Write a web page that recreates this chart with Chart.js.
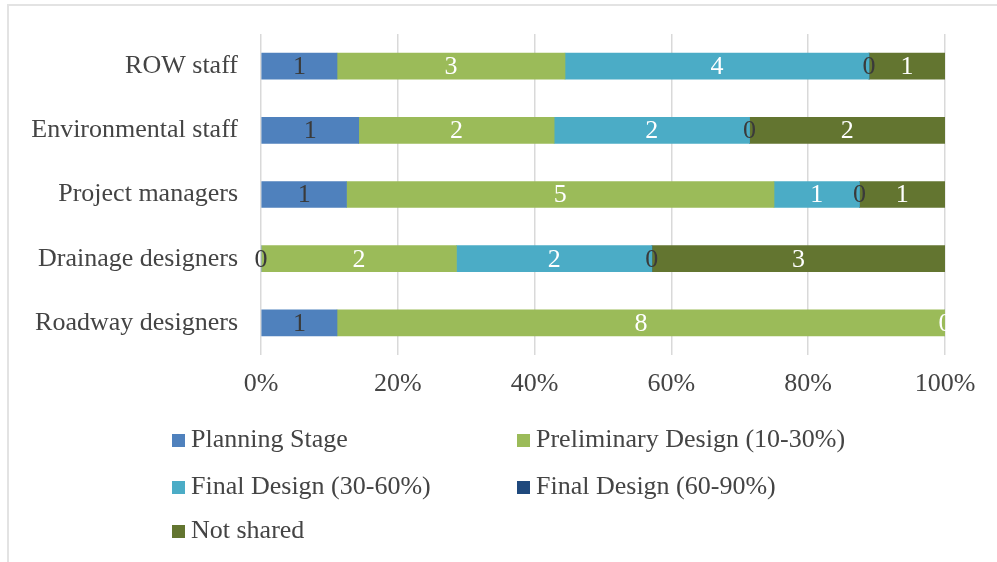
<!DOCTYPE html>
<html>
<head>
<meta charset="utf-8">
<script src="https://cdn.jsdelivr.net/npm/chart.js@4"></script>
<style>
  body { margin: 0; background: #fff; }
  #wrap { position: relative; width: 997px; height: 562px; overflow: hidden; }
  #frame { position: absolute; left: 7px; top: 4px; right: 0; bottom: 0;
           border-top: 2px solid #e3e3e3; border-left: 2px solid #e3e3e3; }
  #chartBox { position: absolute; left: 0; top: 0; width: 997px; height: 562px; }
  #legend { position: absolute; left: 0; top: 0; width: 997px; height: 562px; pointer-events: none;
            font-family: "Liberation Serif", "Times New Roman", serif; font-size: 26px; color: #444; }
  .lg-item { position: absolute; height: 30px; line-height: 30px; white-space: nowrap; transform: translateY(-50%); }
  .lg-item span { display: inline-block; width: 13px; height: 13px; margin-right: 6px; vertical-align: 0px; }
</style>
</head>
<body>
<div id="wrap">
  <div id="frame"></div>
  <div id="chartBox"><canvas id="stageChart"></canvas></div>
  <div id="legend"></div>
</div>
<script>
// respondents per group, by project stage at which info is shared
const groups = ['ROW staff', 'Environmental staff', 'Project managers', 'Drainage designers', 'Roadway designers'];
const planningStage = [1, 1, 1, 0, 1];
const preliminaryDesign = [3, 2, 5, 2, 8];
const finalDesign30 = [4, 2, 1, 2, 0];
const finalDesign60 = [0, 0, 0, 0, null];
const notShared = [1, 2, 1, 3, null];
const pctTicks = [0, 20, 40, 60, 80, 100];

const seriesNames = ['Planning Stage', 'Preliminary Design (10-30%)', 'Final Design (30-60%)', 'Final Design (60-90%)', 'Not shared'];
const seriesCounts = [planningStage, preliminaryDesign, finalDesign30, finalDesign60, notShared];
const seriesColors = ['#4f81bd', '#9bbb59', '#4bacc6', '#1f497d', '#637530'];
const labelColors = ['#3a3a3a', '#ffffff', '#ffffff', '#3a3a3a', '#ffffff'];

// row totals so each bar fills 100%
const totals = groups.map(function (g, j) {
  return seriesCounts.reduce(function (s, arr) { return s + (arr[j] || 0); }, 0);
});

const datasets = seriesNames.map(function (name, i) {
  return {
    label: name,
    counts: seriesCounts[i],
    data: seriesCounts[i].map(function (n, j) { return n === null ? null : n / totals[j] * 100; }),
    backgroundColor: seriesColors[i],
    labelColor: labelColors[i],
    barThickness: 26
  };
});

// writes the raw count in the middle of each segment
const countLabels = {
  id: 'countLabels',
  afterDatasetsDraw(chart) {
    const ctx = chart.ctx;
    ctx.save();
    ctx.font = '26px "Liberation Serif", "Times New Roman", serif';
    ctx.textAlign = 'center';
    ctx.textBaseline = 'middle';
    chart.data.datasets.forEach(function (ds, i) {
      chart.getDatasetMeta(i).data.forEach(function (bar, j) {
        const n = ds.counts[j];
        if (n === null) return;
        ctx.fillStyle = ds.labelColor;
        ctx.fillText(String(n), (bar.x + bar.base) / 2, bar.y + 1);
      });
    });
    ctx.restore();
  }
};

Chart.defaults.font.family = '"Liberation Serif", "Times New Roman", serif';
Chart.defaults.font.size = 26;
Chart.defaults.color = '#444';

const chart = new Chart(document.getElementById('stageChart'), {
  type: 'bar',
  data: { labels: groups, datasets: datasets },
  options: {
    indexAxis: 'y',
    responsive: true,
    maintainAspectRatio: false,
    animation: false,
    layout: { padding: { top: 34, right: 52, left: 0, bottom: 0 } },
    plugins: { legend: { display: false }, tooltip: { enabled: false } },
    scales: {
      x: {
        stacked: true,
        min: 0,
        max: 100,
        afterBuildTicks: function (scale) {
          scale.ticks = pctTicks.map(function (v) { return { value: v }; });
        },
        afterFit: function (scale) { scale.height = 207; },
        grid: { color: '#d9d9d9', lineWidth: 1.5, drawTicks: false },
        border: { display: false },
        ticks: { padding: 14, callback: function (v) { return v + '%'; } }
      },
      y: {
        stacked: true,
        afterFit: function (scale) {
          scale.width = 261;
          // category labels sit mid-band, no extra room needed above/below
          scale.paddingTop = 0;
          scale.paddingBottom = 0;
        },
        grid: { display: false, drawTicks: false },
        border: { display: false },
        ticks: { padding: 23 }
      }
    }
  },
  plugins: [countLabels]
});

// two-column legend below the plot
const legendBox = document.getElementById('legend');
const legendSpots = [[172, 439], [517, 439], [172, 486], [517, 486], [172, 530]];
chart.data.datasets.forEach(function (ds, i) {
  const item = document.createElement('div');
  item.className = 'lg-item';
  item.style.left = legendSpots[i][0] + 'px';
  item.style.top = legendSpots[i][1] + 'px';
  item.innerHTML = '<span style="background:' + ds.backgroundColor + '"></span>' + ds.label;
  legendBox.appendChild(item);
});
</script>
</body>
</html>
